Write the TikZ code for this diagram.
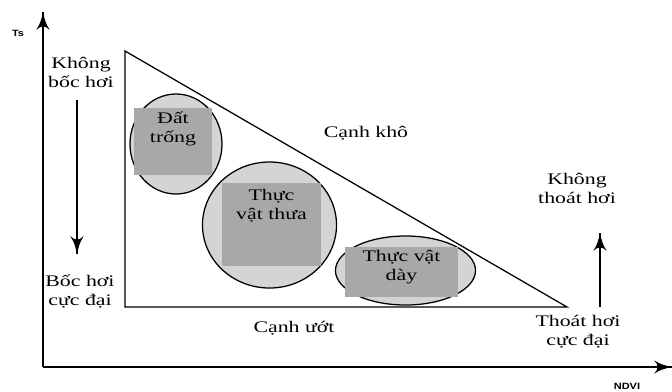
\documentclass[tikz,border=0pt]{standalone}
\usepackage{fontspec}
\setmainfont{Liberation Serif}[FakeStretch=1.35]
\newfontfamily\axisfont{Liberation Sans}[FakeStretch=1.2]
\usetikzlibrary{arrows}
\usetikzlibrary{decorations.markings}
\usetikzlibrary{positioning}
\usetikzlibrary{shapes.geometric}
\definecolor{blobgray}{gray}{0.83}
\definecolor{patchgray}{gray}{0.66}
\tikzset{arr/.style = {decoration={markings,
                                   mark=at position 1 with {\arrow[scale=2.3]{latex'}}},
                       postaction={decorate}}}

\begin{document}
\begin{tikzpicture}[x=0.025cm, y=-0.025cm, line width=0.9pt,
    blob/.style = {ellipse, draw, fill=blobgray, inner sep=0},
    patch/.style = {rectangle, fill=patchgray, inner sep=0},
    lbl/.style = {align=center, inner sep=1pt, font=\fontsize{11.5}{13.5}\selectfont},
    axlbl/.style = {inner sep=0, font=\axisfont\bfseries\fontsize{6.5}{7}\selectfont}]
    \useasboundingbox (0,0) rectangle (672,391);
    % axes
    \coordinate (o) at (43,367);
    \coordinate (ytop) at (43,12);
    \coordinate (xend) at (672,367);
    \draw [arr] (o) -- (ytop);
    \draw [arr] (o) -- (xend);
    \node [axlbl] (ts) at (18,33) {Ts};
    \node [axlbl] (ndvi) at (627,386) {NDVI};
    % triangle
    \coordinate (tl) at (125,51);
    \coordinate (bl) at (125,307);
    \coordinate (br) at (567,307);
    \draw (tl) -- (bl) -- (br) -- cycle;
    % land cover groups
    \node [blob, minimum width=2.3cm, minimum height=2.5cm] (soilblob) at (176,144) {};
    \node [blob, minimum width=3.35cm, minimum height=3.15cm] (sparseblob) at (269.5,225) {};
    \node [blob, minimum width=3.5cm, minimum height=1.725cm] (denseblob) at (405.5,270.5) {};
    \node [patch, minimum width=1.95cm, minimum height=1.675cm] (soil) at (173,141.5) {};
    \node [patch, minimum width=2.475cm, minimum height=2.075cm] (sparse) at (271.5,224.5) {};
    \node [patch, minimum width=2.825cm, minimum height=1.25cm] (dense) at (401.5,272) {};
    \node [lbl, below=0.05cm of soil.north] (soiltxt) {Đất\\trống};
    \node [lbl, below=0.12cm of sparse.north] (sparsetxt) {Thực\\vật thưa};
    \node [lbl, below=0.05cm of dense.north] (densetxt) {Thực vật\\dày};
    % edges
    \node [lbl] (dryedge) at (366,133) {Cạnh khô};
    \node [lbl] (wetedge) at (294,328) {Cạnh ướt};
    % evaporation
    \node [lbl] (noevap) at (81,72) {Không\\bốc hơi};
    \node [lbl] (maxevap) at (80,291) {Bốc hơi\\cực đại};
    \coordinate (evaptop) at (77,100);
    \coordinate (evapbot) at (77,254);
    \draw [arr] (evaptop) -- (evapbot);
    % transpiration
    \node [lbl] (notrans) at (577,188) {Không\\thoát hơi};
    \node [lbl] (maxtrans) at (578,332) {Thoát hơi\\cực đại};
    \coordinate (transbot) at (600,307);
    \coordinate (transtop) at (600,233);
    \draw [arr] (transbot) -- (transtop);
\end{tikzpicture}
\end{document}
